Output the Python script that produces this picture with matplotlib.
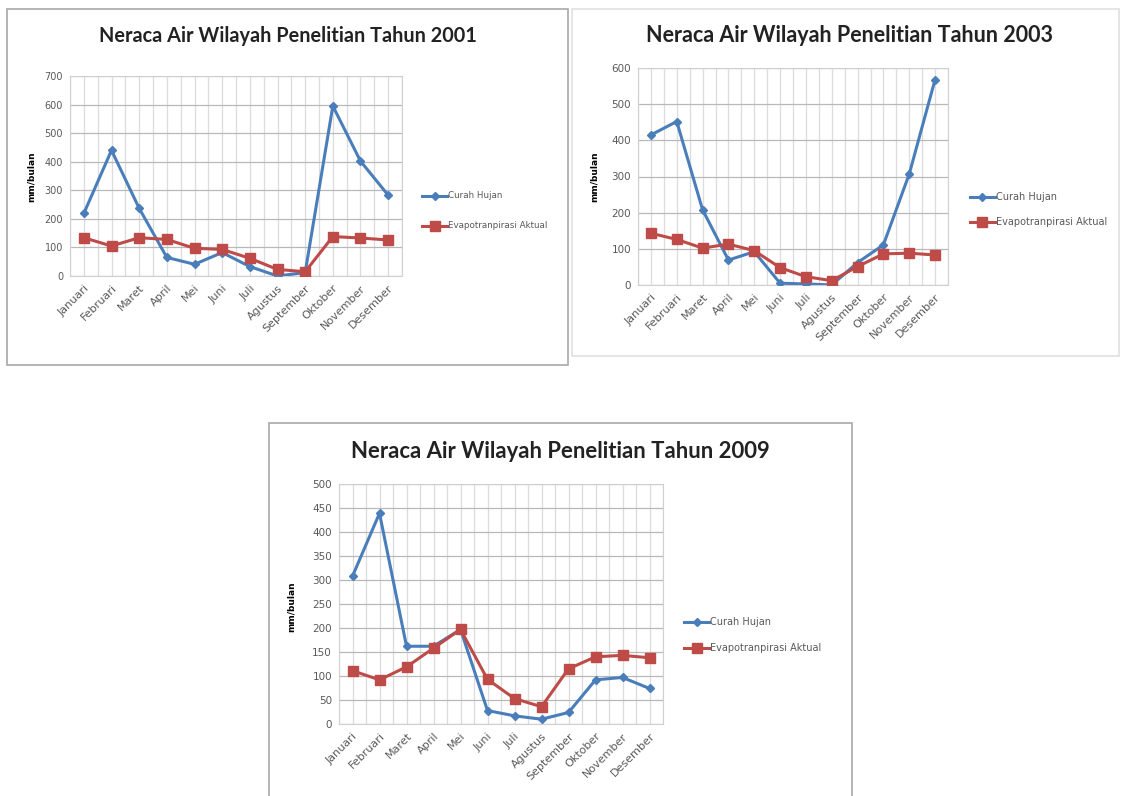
import numpy as np
import matplotlib.pyplot as plt
from matplotlib.patches import Rectangle

W, H = 1122, 796

bulan = ["Januari", "Februari", "Maret", "April", "Mei", "Juni", "Juli",
         "Agustus", "September", "Oktober", "November", "Desember"]

# Tahun 2001
ch_2001 = [219, 440, 237, 65, 41, 82, 33, 0, 12, 595, 402, 283]
ea_2001 = [134, 105, 134, 128, 97, 93, 62, 23, 15, 138, 133, 126]
# Tahun 2003
ch_2003 = [415, 452, 208, 69, 92, 5, 3, 0, 62, 111, 307, 568]
ea_2003 = [143, 126, 102, 113, 95, 48, 23, 12, 51, 86, 88, 83]
# Tahun 2009
ch_2009 = [308, 439, 162, 162, 197, 28, 17, 10, 24, 92, 97, 74]
ea_2009 = [111, 92, 119, 158, 197, 93, 53, 36, 115, 140, 143, 138]

BIRU = "#4A7EBB"
MERAH = "#BE4B48"
ABU = "#595959"
FONT_JUDUL = "Lato"
FONT = "DejaVu Sans"

fig = plt.figure(figsize=(W / 100, H / 100), dpi=100)
fig.patch.set_facecolor("white")


def fx(x):
    return x / W


def fy(y):
    return 1 - y / H


# bingkai tiap grafik
def bingkai(l, t, r, b, warna="#B0B0B0"):
    fig.patches.append(Rectangle((fx(l), fy(b)), fx(r) - fx(l), fy(t) - fy(b),
                                 transform=fig.transFigure, fill=False,
                                 edgecolor=warna, linewidth=1.2))


def grafik(box, ch, ea, ymax, ystep, judul, tpos, lpos, ylpos, fs_judul, fs_y, fs_leg):
    l, t, r, b = box
    ax = fig.add_axes([fx(l), fy(b), fx(r) - fx(l), fy(t) - fy(b)])
    x = np.arange(len(bulan))
    ax.plot(x, ch, color=BIRU, lw=2.2, marker="D", ms=4.5, zorder=3,
            label="Curah Hujan")
    ax.plot(x, ea, color=MERAH, lw=2.2, marker="s", ms=7, zorder=4,
            label="Evapotranpirasi Aktual")
    ax.set_xlim(-0.5, len(bulan) - 0.5)
    ax.set_ylim(0, ymax)
    yt = np.arange(0, ymax + 1, ystep)
    ax.set_yticks(yt)
    ax.set_yticklabels([str(v) for v in yt], fontsize=fs_y, color=ABU, family=FONT)
    ax.set_xticks(x)
    ax.set_xticklabels(bulan, rotation=45, ha="right", rotation_mode="anchor",
                       fontsize=8, color=ABU, family=FONT)
    ax.set_xticks(np.arange(-0.5, len(bulan), 0.5), minor=True)
    ax.tick_params(axis="both", which="both", length=0, pad=5)
    ax.grid(axis="y", which="major", color="#B8B8B8", lw=0.9)
    ax.grid(axis="x", which="both", color="#DCDCDC", lw=0.9)
    ax.set_axisbelow(True)
    for s in ax.spines.values():
        s.set_color("#D0D0D0")
    fig.text(fx(tpos[0]), fy(tpos[1]), judul, ha="center", va="center",
             fontsize=fs_judul, fontweight="bold", family=FONT_JUDUL, color="#222222")
    fig.text(fx(ylpos[0]), fy(ylpos[1]), "mm/bulan", rotation=90, ha="center",
             va="center", fontsize=6.5, fontweight="bold", family=FONT)
    # legenda di sebelah kanan
    lx, ly1, ly2 = lpos
    for (yy, warna, mk, ms, teks) in [(ly1, BIRU, "D", 4, "Curah Hujan"),
                                      (ly2, MERAH, "s", 6.5, "Evapotranpirasi Aktual")]:
        fig.add_artist(plt.Line2D([fx(lx), fx(lx + 25)], [fy(yy), fy(yy)],
                                  transform=fig.transFigure, color=warna, lw=2.2))
        fig.add_artist(plt.Line2D([fx(lx + 12.5)], [fy(yy)], transform=fig.transFigure,
                                  color=warna, marker=mk, ms=ms))
        fig.text(fx(lx + 26), fy(yy), teks, ha="left", va="center", fontsize=fs_leg,
                 color=ABU, family=FONT)
    return ax


bingkai(7, 9, 568, 365, "#A8A8A8")
bingkai(572, 9, 1119, 356, "#E0E0E0")
bingkai(269, 423, 852, 800, "#A8A8A8")

grafik((70, 76, 402, 276), ch_2001, ea_2001, 700, 100,
       "Neraca Air Wilayah Penelitian Tahun 2001", (288, 36), (422, 196, 226),
       (31, 177), 14.3, 7, 6.3)
grafik((638, 68, 948, 285), ch_2003, ea_2003, 600, 100,
       "Neraca Air Wilayah Penelitian Tahun 2003", (849, 36), (970, 197, 222),
       (594, 177), 15.5, 7.5, 7)
grafik((339, 484, 663, 724), ch_2009, ea_2009, 500, 50,
       "Neraca Air Wilayah Penelitian Tahun 2009", (560, 452), (684, 622, 648),
       (291, 607), 15.9, 7.5, 7)

fig.savefig("out.png", dpi=100, facecolor="white")
